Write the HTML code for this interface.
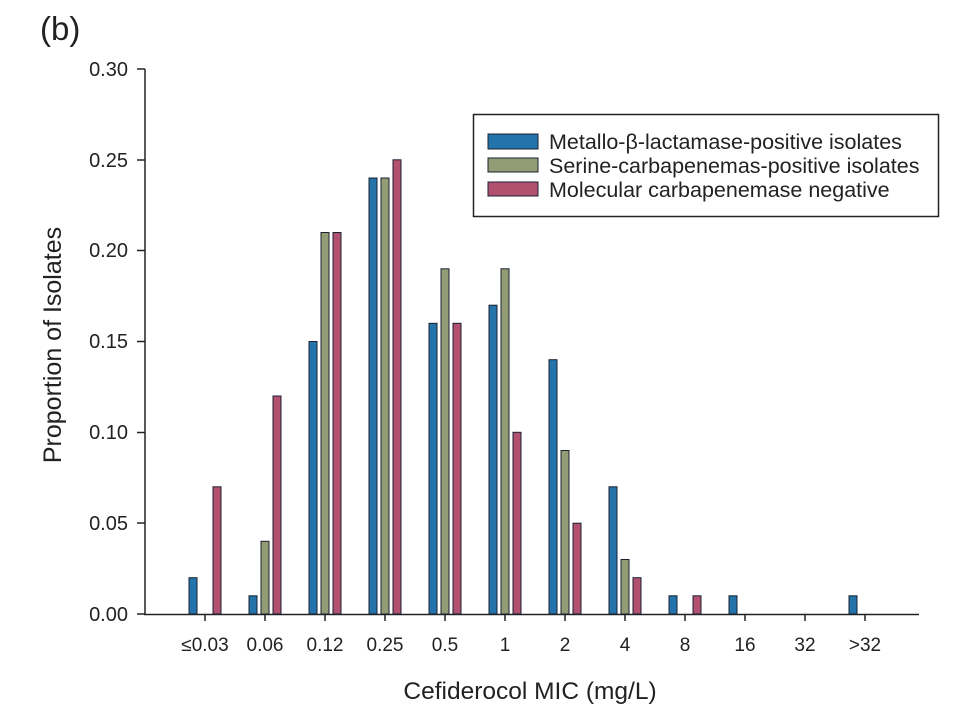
<!DOCTYPE html>
<html><head><meta charset="utf-8"><style>
html,body{margin:0;padding:0;background:#fff}
svg{display:block}
text{font-family:"Liberation Sans",Arial,sans-serif;fill:#222}
</style></head><body>
<svg width="960" height="725" viewBox="0 0 960 725" xmlns="http://www.w3.org/2000/svg">
<rect width="960" height="725" fill="#fff"/>
<text x="40" y="40" font-size="33">(b)</text>
<line x1="145" y1="69" x2="145" y2="614.5" stroke="#222" stroke-width="1.5"/>
<line x1="144" y1="614.5" x2="919" y2="614.5" stroke="#222" stroke-width="1.5"/>
<g stroke="#222" stroke-width="1.5">
<line x1="137" y1="69" x2="145" y2="69"/>
<line x1="137" y1="160" x2="145" y2="160"/>
<line x1="137" y1="250.5" x2="145" y2="250.5"/>
<line x1="137" y1="341.5" x2="145" y2="341.5"/>
<line x1="137" y1="432.5" x2="145" y2="432.5"/>
<line x1="137" y1="523" x2="145" y2="523"/>
<line x1="137" y1="614" x2="145" y2="614"/>
<line x1="205" y1="614" x2="205" y2="621"/>
<line x1="265" y1="614" x2="265" y2="621"/>
<line x1="325" y1="614" x2="325" y2="621"/>
<line x1="385" y1="614" x2="385" y2="621"/>
<line x1="445" y1="614" x2="445" y2="621"/>
<line x1="505" y1="614" x2="505" y2="621"/>
<line x1="565" y1="614" x2="565" y2="621"/>
<line x1="625" y1="614" x2="625" y2="621"/>
<line x1="685" y1="614" x2="685" y2="621"/>
<line x1="745" y1="614" x2="745" y2="621"/>
<line x1="805" y1="614" x2="805" y2="621"/>
<line x1="865" y1="614" x2="865" y2="621"/>
</g>
<g font-size="20" text-anchor="end">
<text x="128" y="76">0.30</text>
<text x="128" y="167">0.25</text>
<text x="128" y="257">0.20</text>
<text x="128" y="348">0.15</text>
<text x="128" y="439">0.10</text>
<text x="128" y="530">0.05</text>
<text x="128" y="621">0.00</text>
</g>
<g font-size="19" text-anchor="middle">
<text x="205" y="651">≤0.03</text>
<text x="265" y="651">0.06</text>
<text x="325" y="651">0.12</text>
<text x="385" y="651">0.25</text>
<text x="445" y="651">0.5</text>
<text x="505" y="651">1</text>
<text x="565" y="651">2</text>
<text x="625" y="651">4</text>
<text x="685" y="651">8</text>
<text x="745" y="651">16</text>
<text x="805" y="651">32</text>
<text x="865" y="651">&gt;32</text>
</g>
<text x="530" y="699" font-size="24.5" text-anchor="middle">Cefiderocol MIC (mg/L)</text>
<text transform="translate(61,345) rotate(-90)" font-size="25" text-anchor="middle">Proportion of Isolates</text>
<g stroke="#1a2230" stroke-width="1">
<g fill="#2473ab">
<rect x="189" y="577.7" width="8" height="36.3"/>
<rect x="249" y="595.8" width="8" height="18.2"/>
<rect x="309" y="341.5" width="8" height="272.5"/>
<rect x="369" y="178" width="8" height="436"/>
<rect x="429" y="323.3" width="8" height="290.7"/>
<rect x="489" y="305.2" width="8" height="308.8"/>
<rect x="549" y="359.7" width="8" height="254.3"/>
<rect x="609" y="486.8" width="8" height="127.2"/>
<rect x="669" y="595.8" width="8" height="18.2"/>
<rect x="729" y="595.8" width="8" height="18.2"/>
<rect x="849" y="595.8" width="8" height="18.2"/>
</g>
<g fill="#949c76">
<rect x="261" y="541.3" width="8" height="72.7"/>
<rect x="321" y="232.5" width="8" height="381.5"/>
<rect x="381" y="178" width="8" height="436"/>
<rect x="441" y="268.8" width="8" height="345.2"/>
<rect x="501" y="268.8" width="8" height="345.2"/>
<rect x="561" y="450.5" width="8" height="163.5"/>
<rect x="621" y="559.5" width="8" height="54.5"/>
</g>
<g fill="#b2506f">
<rect x="213" y="486.8" width="8" height="127.2"/>
<rect x="273" y="396" width="8" height="218"/>
<rect x="333" y="232.5" width="8" height="381.5"/>
<rect x="393" y="159.8" width="8" height="454.2"/>
<rect x="453" y="323.3" width="8" height="290.7"/>
<rect x="513" y="432.3" width="8" height="181.7"/>
<rect x="573" y="523.2" width="8" height="90.8"/>
<rect x="633" y="577.7" width="8" height="36.3"/>
<rect x="693" y="595.8" width="8" height="18.2"/>
</g>
</g>
<rect x="473.5" y="114.5" width="465" height="102" fill="#fff" stroke="#222" stroke-width="1.5"/>
<g stroke="#1a2230" stroke-width="1">
<rect x="488" y="134" width="50" height="15" fill="#2473ab"/>
<rect x="488" y="158" width="50" height="14" fill="#949c76"/>
<rect x="488" y="182" width="50" height="14" fill="#b2506f"/>
</g>
<g font-size="21.5">
<text x="549" y="149">Metallo-β-lactamase-positive isolates</text>
<text x="549" y="173">Serine-carbapenemas-positive isolates</text>
<text x="549" y="197">Molecular carbapenemase negative</text>
</g>
</svg>
</body></html>
